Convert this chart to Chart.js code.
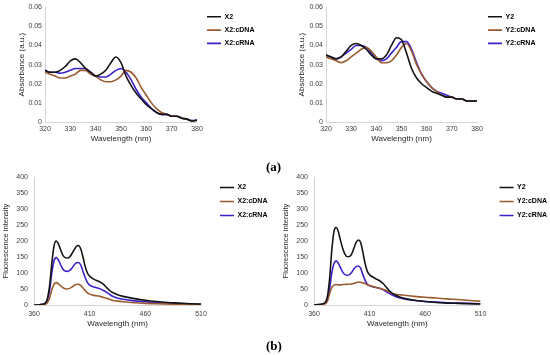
<!DOCTYPE html>
<html>
<head>
<meta charset="utf-8">
<script src="https://cdn.jsdelivr.net/npm/chart.js@4.4.0/dist/chart.umd.min.js"></script>
<style>
body{margin:0;background:#fff;}
#wrap{position:relative;width:550px;height:355px;overflow:hidden;background:#fff;}
#wrap canvas{position:absolute;}
.tag{position:absolute;font:bold 13px "Liberation Serif","Times New Roman",serif;line-height:13px;color:#000;}
</style>
</head>
<body>
<div id="wrap">
	<canvas id="c1" width="275" height="146" style="left:0px;top:0px"></canvas>
	<canvas id="c2" width="270" height="146" style="left:280px;top:0px"></canvas>
	<canvas id="c3" width="275" height="165" style="left:0px;top:165px"></canvas>
	<canvas id="c4" width="270" height="165" style="left:280px;top:165px"></canvas>
	<div class="tag" style="left:266px;top:160px">(a)</div>
	<div class="tag" style="left:266px;top:339px">(b)</div>
</div>
<script>
//吸收光谱 (a)
var absWl=[320,322,324,326,328,330,332,334,336,338,340,342,344,346,348,350,352,354,356,358,360,362,364,366,368,370,372,374,376,378,380];
var absX2=[0.027,0.026,0.026,0.027,0.029,0.032,0.033,0.031,0.028,0.026,0.024,0.025,0.027,0.031,0.034,0.031,0.024,0.019,0.015,0.012,0.009,0.007,0.005,0.004,0.004,0.003,0.003,0.002,0.0015,0.0005,0.001];
var absX2cDNA=[0.026,0.025,0.024,0.023,0.023,0.024,0.025,0.027,0.027,0.025,0.024,0.022,0.021,0.021,0.022,0.024,0.027,0.026,0.023,0.018,0.014,0.010,0.007,0.005,0.004,0.003,0.003,0.002,0.0015,0.0005,0.001];
var absX2cRNA=[0.027,0.026,0.026,0.0255,0.026,0.027,0.028,0.028,0.028,0.026,0.024,0.0235,0.0235,0.025,0.027,0.028,0.026,0.022,0.017,0.013,0.010,0.007,0.005,0.004,0.004,0.003,0.003,0.002,0.0015,0.0007,0.001];
var absY2=[0.035,0.034,0.033,0.034,0.037,0.040,0.041,0.040,0.038,0.035,0.033,0.033,0.035,0.040,0.044,0.043,0.036,0.028,0.023,0.020,0.018,0.016,0.015,0.014,0.013,0.013,0.012,0.012,0.011,0.011,0.011];
var absY2cDNA=[0.034,0.033,0.032,0.031,0.032,0.034,0.036,0.038,0.039,0.037,0.034,0.031,0.031,0.032,0.035,0.039,0.041,0.037,0.030,0.025,0.021,0.018,0.016,0.014,0.013,0.013,0.012,0.012,0.011,0.011,0.011];
var absY2cRNA=[0.035,0.034,0.033,0.034,0.036,0.038,0.040,0.040,0.039,0.036,0.033,0.032,0.033,0.036,0.039,0.042,0.042,0.038,0.031,0.025,0.021,0.018,0.016,0.015,0.014,0.013,0.012,0.012,0.011,0.011,0.011];

//荧光光谱 (b)
var fluWl=[360,365,370,372,374,376,378,380,382,384,386,388,390,392,394,396,398,400,402,404,406,408,410,414,418,422,426,430,435,440,450,460,470,480,490,500,510];
var fluX2=[0,1,6,20,60,130,185,200,190,172,155,148,147,150,160,172,183,186,175,150,120,100,90,80,74,66,52,40,32,27,20,15,11,8,6,4,3];
var fluX2cDNA=[0,0.5,2,7,22,48,65,70,66,60,54,51,50,52,56,61,64,65,61,53,45,38,34,30,28,24,20,15,12,10,7,5,4,3,2,2,1];
var fluX2cRNA=[0,1,4,14,45,100,138,148,140,125,112,106,105,108,115,125,132,133,125,105,85,70,62,56,52,46,38,28,22,18,13,10,7,5,4,3,2];
var fluY2=[0,2,8,25,80,170,230,242,228,200,175,158,151,152,160,178,196,203,195,165,130,105,95,85,78,68,52,38,28,22,15,11,8,6,5,4,3];
var fluY2cDNA=[0,1,4,12,35,55,62,64,63,63,64,64,65,65,66,67,70,72,71,69,67,64,61,57,53,49,44,36,33,31,27,24,22,19,17,14,12];
var fluY2cRNA=[0,1,5,15,50,100,130,138,130,115,102,95,93,95,102,113,120,122,115,95,78,65,60,56,53,48,40,32,24,20,15,11,9,7,6,5,4];

//刻度
var absTicks=[0,0.01,0.02,0.03,0.04,0.05,0.06];
var fluTicks=[0,50,100,150,200,250,300,350,400];

var colBlack='#141414', colBrown='#9b5a2f', colBlue='#3d22cc';
var fontFam='"Liberation Sans", Arial, sans-serif';
var legSize=7, lineLen=14;

function toPts(xs,ys){
	var out=[];
	for(var i=0;i<xs.length;i++){
		out.push({x:xs[i],y:ys[i]});
	}
	return out;
}

function makeSet(label,xs,ys,color){
	return {
		label:label,
		data:toPts(xs,ys),
		borderColor:color,
		backgroundColor:color,
		borderWidth:1.6,
		pointRadius:0,
		fill:false,
		cubicInterpolationMode:'monotone'
	};
}

//图例宽度 = 线长 + 字号/2 + 最长文字 + 10 (和Chart.js的算法一样)
function legendWidth(sets){
	var mctx=document.createElement('canvas').getContext('2d');
	mctx.font='bold '+legSize+'px '+fontFam;
	var tw=0;
	for(var i=0;i<sets.length;i++){
		tw=Math.max(tw,mctx.measureText(sets[i].label).width);
	}
	return lineLen+legSize/2+tw+10;
}

//cfg里是画布上的位置(页面坐标)
function makeChart(id,cfg){
	var cv=document.getElementById(id);
	var left=parseFloat(cv.style.left), top=parseFloat(cv.style.top);
	var w=cv.width, h=cv.height;
	var legW=legendWidth(cfg.sets);
	var gapW=cfg.legendX-cfg.plotRight-cfg.legPad;
	var padR=Math.max(0,w-(cfg.plotRight-left)-gapW-legW);
	var yTicks=cfg.yTicks;
	return new Chart(cv,{
		type:'line',
		data:{datasets:cfg.sets},
		options:{
			responsive:false,
			animation:false,
			devicePixelRatio:1,
			layout:{padding:{top:cfg.plotTop-top,left:0,right:padR,bottom:0}},
			plugins:{
				legend:{
					position:'right',
					align:'start',
					maxWidth:legW,
					labels:{
						usePointStyle:true,
						pointStyle:'line',
						pointStyleWidth:lineLen,
						padding:cfg.legPad,
						color:'#000',
						font:{family:fontFam,size:legSize,weight:'bold'}
					}
				},
				tooltip:{enabled:false}
			},
			scales:{
				x:{
					type:'linear',
					min:cfg.xMin,
					max:cfg.xMax,
					ticks:{stepSize:cfg.xStep,padding:cfg.xPad,maxRotation:0,autoSkip:false,color:'#404040',font:{family:fontFam,size:7}},
					grid:{display:false,drawTicks:false},
					border:{color:'#d4d4d4'},
					title:{display:true,text:'Wavelength (nm)',color:'#262626',font:{family:fontFam,size:8},padding:{top:0,bottom:cfg.xTitlePad}},
					afterFit:function(s){ s.height=h-(cfg.plotBottom-top); }
				},
				y:{
					min:yTicks[0],
					max:yTicks[yTicks.length-1],
					afterBuildTicks:function(s){ s.ticks=yTicks.map(function(v){return {value:v};}); },
					ticks:{padding:cfg.yPad,color:'#404040',font:{family:fontFam,size:7},callback:cfg.yFmt},
					grid:{display:false,drawTicks:false},
					border:{color:'#d4d4d4'},
					title:{display:true,text:cfg.yTitle,color:'#262626',font:{family:fontFam,size:cfg.yTitleSize},padding:{top:cfg.yTitlePad,bottom:0}},
					afterFit:function(s){ s.width=cfg.plotLeft-left; }
				},
				//空白轴, 只用来留出图和图例之间的距离
				gap:{
					type:'linear',
					position:'right',
					display:true,
					grid:{display:false,drawTicks:false},
					border:{display:false},
					ticks:{display:false},
					title:{display:false},
					afterFit:function(s){ s.width=gapW; }
				}
			}
		}
	});
}

function absFmt(v){ return v===0?'0':v.toFixed(2); }
function fluFmt(v){ return String(v); }

makeChart('c1',{
	plotLeft:45,plotRight:197,plotTop:7,plotBottom:122,legendX:207,legPad:6.3,
	xMin:320,xMax:380,xStep:10,xPad:3,xTitlePad:2.2,
	yTicks:absTicks,yPad:3,yFmt:absFmt,yTitle:'Absorbance (a.u.)',yTitleSize:8,yTitlePad:17,
	sets:[makeSet('X2',absWl,absX2,colBlack),makeSet('X2:cDNA',absWl,absX2cDNA,colBrown),makeSet('X2:cRNA',absWl,absX2cRNA,colBlue)]
});
makeChart('c2',{
	plotLeft:326,plotRight:477,plotTop:7,plotBottom:122,legendX:488,legPad:6.3,
	xMin:320,xMax:380,xStep:10,xPad:3,xTitlePad:2.2,
	yTicks:absTicks,yPad:3,yFmt:absFmt,yTitle:'Absorbance (a.u.)',yTitleSize:8,yTitlePad:17,
	sets:[makeSet('Y2',absWl,absY2,colBlack),makeSet('Y2:cDNA',absWl,absY2cDNA,colBrown),makeSet('Y2:cRNA',absWl,absY2cRNA,colBlue)]
});
makeChart('c3',{
	plotLeft:34,plotRight:201,plotTop:177,plotBottom:305,legendX:220,legPad:7,
	xMin:360,xMax:510,xStep:50,xPad:5,xTitlePad:1.2,
	yTicks:fluTicks,yPad:6,yFmt:fluFmt,yTitle:'Fluorescence intensity',yTitleSize:7.5,yTitlePad:1.5,
	sets:[makeSet('X2',fluWl,fluX2,colBlack),makeSet('X2:cDNA',fluWl,fluX2cDNA,colBrown),makeSet('X2:cRNA',fluWl,fluX2cRNA,colBlue)]
});
makeChart('c4',{
	plotLeft:314,plotRight:481,plotTop:177,plotBottom:305,legendX:500,legPad:7,
	xMin:360,xMax:510,xStep:50,xPad:5,xTitlePad:1.2,
	yTicks:fluTicks,yPad:6,yFmt:fluFmt,yTitle:'Fluorescence intensity',yTitleSize:7.5,yTitlePad:1.5,
	sets:[makeSet('Y2',fluWl,fluY2,colBlack),makeSet('Y2:cDNA',fluWl,fluY2cDNA,colBrown),makeSet('Y2:cRNA',fluWl,fluY2cRNA,colBlue)]
});
</script>
</body>
</html>
